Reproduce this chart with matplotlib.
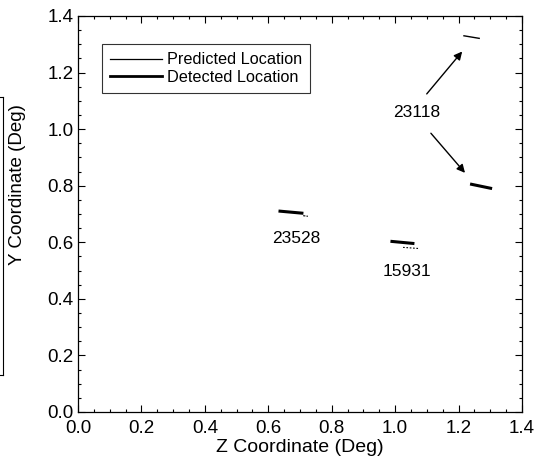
import matplotlib
matplotlib.use("Agg")
import matplotlib.pyplot as plt
from matplotlib.lines import Line2D
from matplotlib.ticker import MultipleLocator

plt.rcParams['font.family'] = ['Liberation Sans', 'DejaVu Sans']

# Track segments (Z, Y in degrees)
pred_23528_z = [0.710, 0.725]
pred_23528_y = [0.694, 0.692]
det_23528_z = [0.637, 0.706]
det_23528_y = [0.710, 0.703]

pred_15931_z = [1.025, 1.075]
pred_15931_y = [0.582, 0.578]
det_15931_z = [0.990, 1.056]
det_15931_y = [0.603, 0.596]

pred_23118_z = [1.217, 1.265]
pred_23118_y = [1.330, 1.321]
det_23118_z = [1.241, 1.301]
det_23118_y = [0.805, 0.791]

# Object labels and positions
labels = ["23528", "15931", "23118"]
label_z = [0.687, 1.037, 1.068]
label_y = [0.612, 0.495, 1.058]

fig = plt.figure(figsize=(5.42, 4.67), dpi=100)
ax = fig.add_axes([78 / 542, 1 - 412 / 467, 444 / 542, 396 / 467])

ax.plot(pred_23528_z, pred_23528_y, color='black', lw=0.8, ls=(0, (2, 1)))
ax.plot(det_23528_z, det_23528_y, color='black', lw=2.2)
ax.plot(pred_15931_z, pred_15931_y, color='black', lw=0.8, ls=(0, (1.5, 1.5)))
ax.plot(det_15931_z, det_15931_y, color='black', lw=2.2)
ax.plot(pred_23118_z, pred_23118_y, color='black', lw=1.0)
ax.plot(det_23118_z, det_23118_y, color='black', lw=2.2)

for txt, z, y in zip(labels, label_z, label_y):
    ax.text(z, y, txt, fontsize=12.5, ha='center', va='center')

arrow_kw = dict(arrowstyle='-|>', color='black', lw=1.0, mutation_scale=12)
ax.annotate('', xy=(1.217, 1.282), xytext=(1.094, 1.117), arrowprops=arrow_kw)
ax.annotate('', xy=(1.226, 0.838), xytext=(1.107, 0.993), arrowprops=arrow_kw)

ax.set_xlim(0, 1.4)
ax.set_ylim(0, 1.4)
ax.xaxis.set_major_locator(MultipleLocator(0.2))
ax.yaxis.set_major_locator(MultipleLocator(0.2))
ax.xaxis.set_minor_locator(MultipleLocator(0.05))
ax.yaxis.set_minor_locator(MultipleLocator(0.05))
ax.xaxis.set_major_formatter(plt.FormatStrFormatter('%.1f'))
ax.yaxis.set_major_formatter(plt.FormatStrFormatter('%.1f'))
ax.tick_params(which='both', direction='in', top=True, right=True,
               labelsize=13.5, width=0.8)
ax.tick_params(which='major', length=5)
ax.tick_params(which='minor', length=2.5)
ax.tick_params(axis='x', which='major', pad=6)
ax.tick_params(axis='y', which='major', pad=3)
for s in ax.spines.values():
    s.set_linewidth(0.9)

ax.set_xlabel('Z Coordinate (Deg)', fontsize=14, labelpad=1)
ax.set_ylabel('Y Coordinate (Deg)', fontsize=13.5)
ax.yaxis.set_label_coords(-0.118, 0.575)

handles = [Line2D([], [], color='black', lw=0.9),
           Line2D([], [], color='black', lw=2.0)]
leg = ax.legend(handles, ['Predicted Location', 'Detected Location'],
                loc='upper left', bbox_to_anchor=(0.054, 0.929),
                fontsize=11.7, frameon=True, fancybox=False, edgecolor='black',
                handlelength=3.2, handletextpad=0.3, borderpad=0.5,
                labelspacing=0.15, borderaxespad=0)
leg.get_frame().set_linewidth(0.8)

# Edge of a neighbouring panel at the left margin
W, H = 542, 467
fig.add_artist(Line2D([3 / W, 3 / W], [1 - 97 / H, 1 - 375 / H],
                      transform=fig.transFigure, color='black', lw=0.8))
fig.add_artist(Line2D([0, 3 / W], [1 - 97 / H, 1 - 97 / H],
                      transform=fig.transFigure, color='black', lw=0.8))
fig.add_artist(Line2D([0, 3 / W], [1 - 375 / H, 1 - 375 / H],
                      transform=fig.transFigure, color='black', lw=0.8))

fig.savefig('out.png', dpi=100)
